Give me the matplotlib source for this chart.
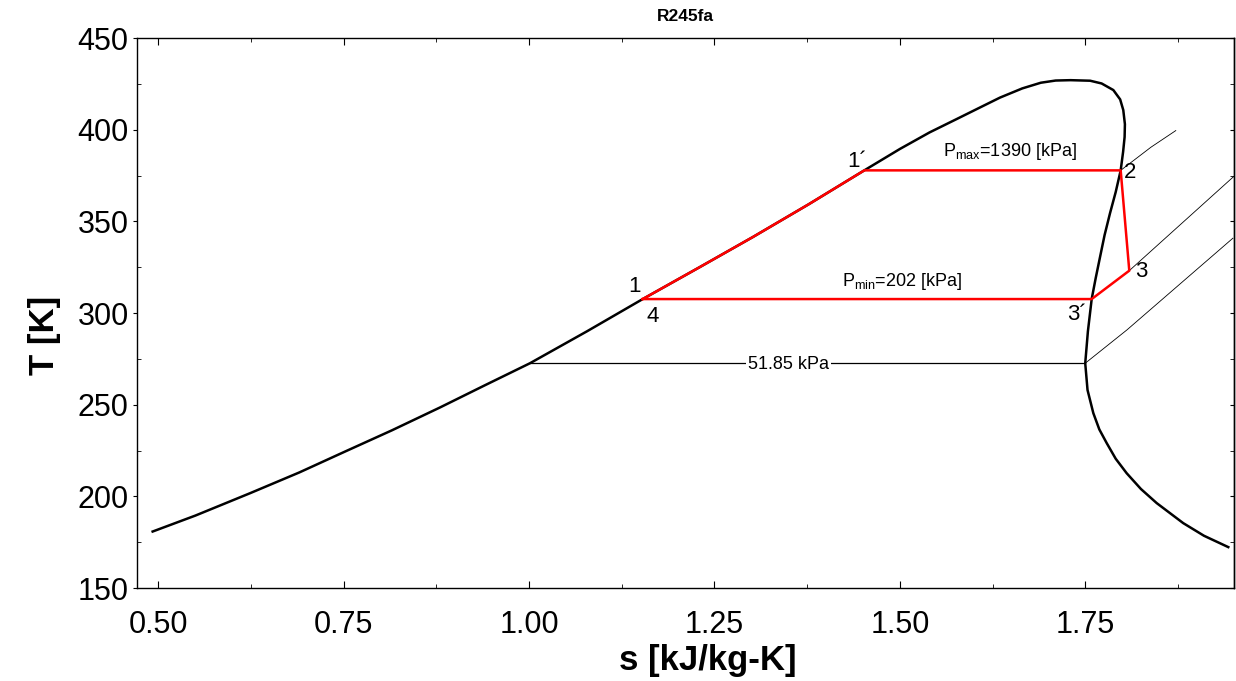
import matplotlib
matplotlib.use("Agg")
import matplotlib.pyplot as plt
from matplotlib.ticker import MultipleLocator, FormatStrFormatter

plt.rcParams['font.family'] = ['Liberation Sans', 'DejaVu Sans']
plt.rcParams['mathtext.default'] = 'regular'

# saturated liquid line (s in kJ/kg-K, T in K), bottom to the critical region
liq_s = [0.4924, 0.55, 0.6237, 0.69, 0.7517, 0.815, 0.880, 0.94, 1.0012,
         1.078, 1.1532, 1.23, 1.302, 1.377, 1.452, 1.5001, 1.54, 1.5766,
         1.61, 1.635, 1.665, 1.69, 1.71, 1.73]
liq_T = [180.8, 189.5, 201.7, 213.0, 224.4, 236.0, 248.5, 260.5, 272.6,
         290.0, 307.6, 325.0, 341.5, 359.3, 377.8, 389.5, 398.5, 405.8,
         412.5, 417.5, 422.5, 425.6, 426.8, 427.0]

# saturated vapour line, from the critical region down
vap_s = [1.7565, 1.772, 1.7878, 1.797, 1.8012, 1.8034, 1.8030, 1.8010,
         1.7977, 1.791, 1.7833, 1.776, 1.770, 1.764, 1.7586, 1.7535,
         1.7499, 1.7530, 1.7608, 1.7689, 1.7789, 1.791, 1.8058, 1.825,
         1.8463, 1.882, 1.91, 1.9428]
vap_T = [426.7, 425.2, 421.6, 416.5, 410.7, 403.0, 396.0, 388.0,
         377.8, 366.0, 354.4, 342.5, 330.8, 319.0, 307.6, 290.0,
         272.6, 258.0, 245.4, 236.5, 229.0, 220.5, 212.6, 204.0,
         196.3, 185.4, 178.5, 172.3]

# ORC state points
state_names = ['1', "1\u00b4", '2', '3', "3\u00b4", '4']
state_s = [1.1532, 1.452, 1.7977, 1.8093, 1.7586, 1.1532]
state_T = [307.6, 377.8, 377.8, 323.1, 307.6, 307.6]

# superheated isobars
pmax_s = [1.7977, 1.8384, 1.872]
pmax_T = [377.8, 390.4, 399.5]
pmin_s = [1.8093, 1.95]
pmin_T = [323.1, 374.4]
pref_s = [1.7499, 1.8062, 1.949]
pref_T = [272.6, 290.8, 340.8]
pref_dome_s = [1.0012, 1.7499]
pref_dome_T = [272.6, 272.6]

fig = plt.figure(figsize=(12.36, 6.81), dpi=100)
ax = fig.add_axes([137 / 1236, 1 - 588 / 681, 1097 / 1236, 550 / 681])

# saturation dome
ax.plot(liq_s + vap_s, liq_T + vap_T, color='black', lw=1.8, zorder=3,
        solid_joinstyle='round')

# isobars
ax.plot(pmax_s, pmax_T, color='black', lw=0.6)
ax.plot(pmin_s, pmin_T, color='black', lw=0.6)
ax.plot(pref_s, pref_T, color='black', lw=0.6)
ax.plot(pref_dome_s, pref_dome_T, color='black', lw=0.9)
ax.text(1.3495, 272.0, '51.85 kPa', fontsize=13, ha='center', va='center',
        bbox=dict(facecolor='white', edgecolor='none', pad=1.5), zorder=4)

# cycle: pump/preheat along the liquid line, then evaporation, expansion, cooling
i1 = liq_s.index(state_s[0])
i1p = liq_s.index(state_s[1])
cyc_s = liq_s[i1:i1p + 1] + state_s[2:]
cyc_T = liq_T[i1:i1p + 1] + state_T[2:]
ax.plot(cyc_s, cyc_T, color='#ff0000', lw=1.8, zorder=5)

label_pos = {'1': (1.1428, 314.2), "1\u00b4": (1.4418, 382.6), '2': (1.8103, 376.6),
             '3': (1.826, 322.6), "3\u00b4": (1.7384, 299.0), '4': (1.1667, 298.0)}
for name in state_names:
    x, y = label_pos[name]
    ax.text(x, y, name, fontsize=16, ha='center', va='center', zorder=6)

ax.text(1.6485, 388.0, 'P$_{max}$=1390 [kPa]', fontsize=13, ha='center', va='center')
ax.text(1.5035, 317.1, 'P$_{min}$=202 [kPa]', fontsize=13, ha='center', va='center')

ax.set_xlim(0.4713, 1.9505)
ax.set_ylim(150, 450)
ax.xaxis.set_major_locator(MultipleLocator(0.25))
ax.xaxis.set_minor_locator(MultipleLocator(0.125))
ax.xaxis.set_major_formatter(FormatStrFormatter('%.2f'))
ax.yaxis.set_major_locator(MultipleLocator(50))
ax.yaxis.set_minor_locator(MultipleLocator(25))

ax.tick_params(axis='x', which='both', direction='in', labelsize=22, pad=16,
               top=True)
ax.tick_params(axis='x', which='major', length=5)
ax.tick_params(axis='x', which='minor', length=3)
ax.tick_params(axis='y', which='major', direction='out', length=3, labelsize=22, pad=3)
ax.tick_params(axis='y', which='minor', direction='in', length=3)
right = ax.secondary_yaxis('right')
right.yaxis.set_major_locator(MultipleLocator(50))
right.yaxis.set_minor_locator(MultipleLocator(25))
right.tick_params(which='both', direction='in', length=3, labelright=False)

for sp in ax.spines.values():
    sp.set_linewidth(1.0)
right.spines['right'].set_linewidth(1.0)

ax.set_xlabel('s [kJ/kg-K]', fontsize=25, fontweight='bold', va='center')
ax.xaxis.set_label_coords(0.52, -0.131)
ax.set_ylabel('T [K]', fontsize=25, fontweight='bold', va='center')
ax.yaxis.set_label_coords(-0.084, 0.46)
ax.set_title('R245fa', fontsize=12.5, fontweight='bold', pad=12)

fig.savefig('out.png', dpi=100)
